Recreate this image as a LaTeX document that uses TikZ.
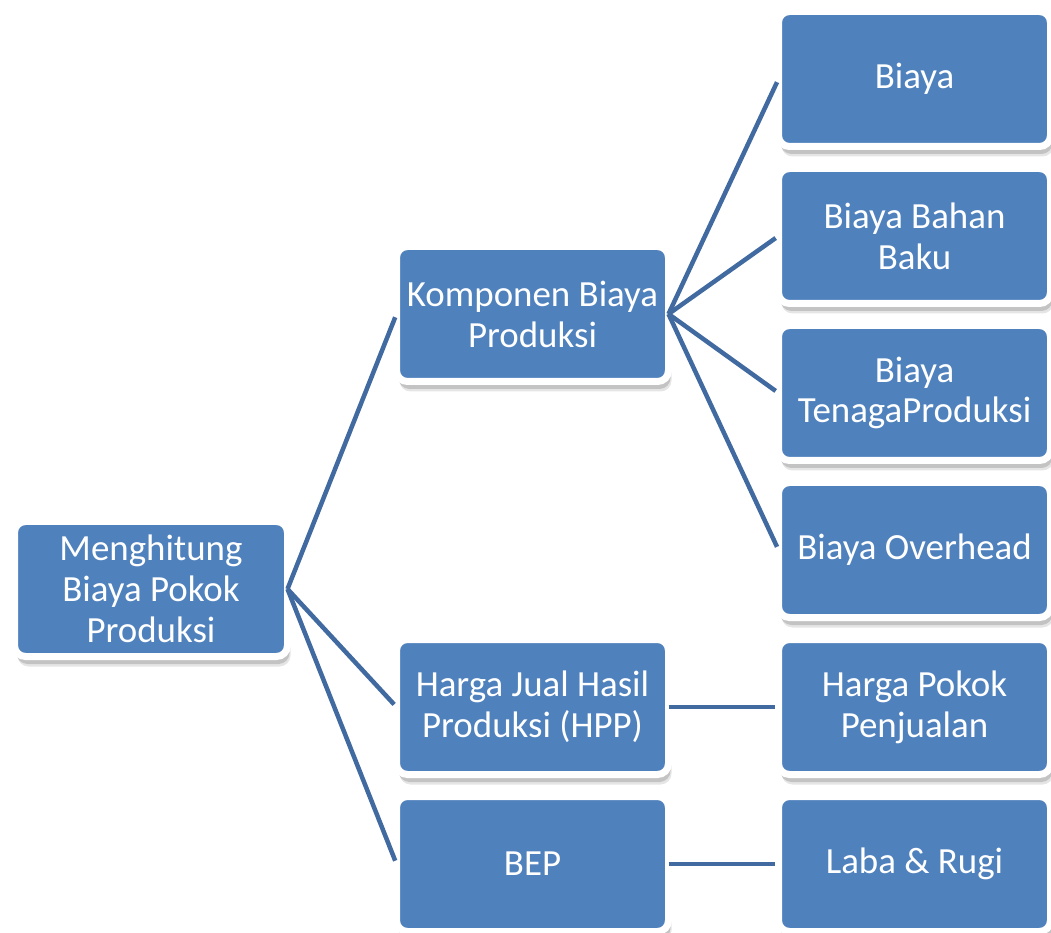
\documentclass[tikz,border=0pt]{standalone}
\usepackage{fontspec}
\setmainfont{Carlito}
\usepackage{tikz}
\usetikzlibrary{positioning, shadows, backgrounds}
\usepackage{xcolor}
\definecolor{boxblue}{RGB}{79, 129, 189}
\definecolor{linkblue}{RGB}{64, 106, 160}
\tikzset{
    costbox/.style={rectangle, rounded corners=0.22cm, draw=white, line width=0.14cm, fill=boxblue,
        text=white, minimum width=5.44cm, minimum height=2.7cm, align=center, outer sep=0pt,
        font=\fontsize{21}{23.3}\selectfont,
        drop shadow={shadow xshift=0.06cm, shadow yshift=-0.2cm, opacity=0.1, fill=black},
        drop shadow={shadow xshift=0.04cm, shadow yshift=-0.15cm, opacity=0.15, fill=black}},
    linkline/.style={draw=linkblue, line width=0.09cm, shorten >=0.07cm}
}
\begin{document}
\begin{tikzpicture}
            \useasboundingbox (0,0) rectangle (21.02,-18.66);
            \node[costbox, minimum width=5.46cm] (root) at (3.02,-11.78) {Menghitung\\Biaya Pokok\\Produksi};

            \node[costbox] (komp) at (10.65,-6.28) {Komponen Biaya\\Produksi};
            \node[costbox] (hjual) at (10.65,-14.14) {Harga Jual Hasil\\Produksi (HPP)};
            \node[costbox] (bep) at (10.65,-17.28) {BEP};

            \node[costbox] (biaya) at (18.29,-1.58) {Biaya};
            \node[costbox] (bahan) at (18.29,-4.72) {Biaya Bahan\\Baku};
            \node[costbox] (tenaga) at (18.29,-7.86) {Biaya\\TenagaProduksi};
            \node[costbox] (overhead) at (18.29,-11.0) {Biaya Overhead};
            \node[costbox] (hpokok) at (18.29,-14.14) {Harga Pokok\\Penjualan};
            \node[costbox] (laba) at (18.29,-17.28) {Laba \& Rugi};

            % first level
            \foreach \kid in {komp, hjual, bep}
                \draw[linkline] (root.east) -- (\kid.west);
            % second level
            \foreach \kid in {biaya, bahan, tenaga, overhead}
                \draw[linkline] (komp.east) -- (\kid.west);
            \draw[linkline] (hjual.east) -- (hpokok.west);
            \draw[linkline] (bep.east) -- (laba.west);
        \end{tikzpicture}
\end{document}
